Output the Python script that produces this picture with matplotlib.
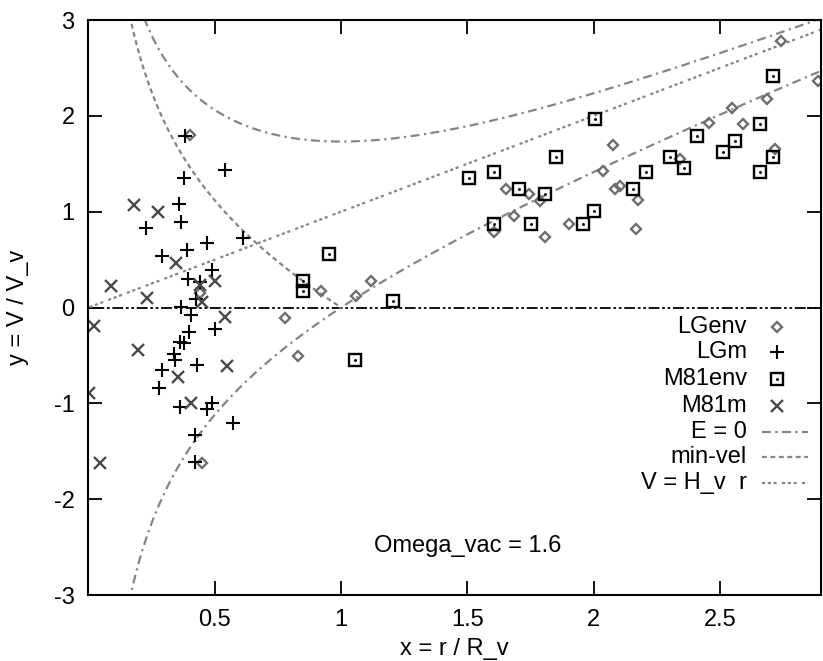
import numpy as np
import matplotlib
matplotlib.use('Agg')
import matplotlib.pyplot as plt

plt.rcParams['font.family'] = ['Liberation Sans', 'DejaVu Sans']
plt.rcParams['axes.unicode_minus'] = False

# data (x = r / R_v, y = V / V_v)
lgenv_x = [0.402, 0.449, 0.440, 0.778, 0.828, 0.920, 1.061, 1.120, 1.604, 1.654,
           1.685, 1.744, 1.786, 1.806, 1.904, 2.036, 2.076, 2.085, 2.105, 2.175,
           2.168, 2.343, 2.458, 2.547, 2.590, 2.686, 2.717, 2.741, 2.890]
lgenv_y = [1.80, -1.62, 0.15, -0.11, -0.51, 0.17, 0.12, 0.28, 0.79, 1.24,
           0.96, 1.18, 1.11, 0.74, 0.87, 1.42, 1.70, 1.24, 1.27, 1.12,
           0.82, 1.55, 1.93, 2.08, 1.92, 2.18, 1.65, 2.78, 2.36]

lgm_x = [0.383, 0.541, 0.379, 0.359, 0.366, 0.227, 0.613, 0.468, 0.389, 0.293,
         0.488, 0.393, 0.440, 0.426, 0.367, 0.406, 0.501, 0.399, 0.363, 0.380,
         0.337, 0.341, 0.429, 0.293, 0.280, 0.363, 0.488, 0.468, 0.571, 0.422,
         0.422]
lgm_y = [1.79, 1.44, 1.35, 1.08, 0.89, 0.83, 0.73, 0.67, 0.60, 0.54,
         0.39, 0.30, 0.27, 0.09, 0.01, -0.08, -0.22, -0.26, -0.36, -0.37,
         -0.48, -0.55, -0.60, -0.65, -0.84, -1.04, -1.00, -1.06, -1.21, -1.33,
         -1.61]

m81env_x = [0.851, 0.851, 0.952, 1.206, 1.055, 1.505, 1.604, 1.704, 1.806, 1.852,
            2.006, 1.604, 1.753, 1.957, 2.003, 2.157, 2.208, 2.304, 2.359, 2.408,
            2.511, 2.559, 2.659, 2.708, 2.659, 2.708]
m81env_y = [0.28, 0.17, 0.56, 0.07, -0.55, 1.35, 1.41, 1.24, 1.18, 1.57,
            1.97, 0.875, 0.875, 0.875, 1.01, 1.24, 1.41, 1.57, 1.46, 1.79,
            1.62, 1.74, 1.92, 2.42, 1.41, 1.57]

m81m_x = [0.179, 0.277, 0.346, 0.090, 0.231, 0.499, 0.440, 0.450, 0.020, 0.198,
          0.541, 0.547, 0.356, 0.003, 0.406, 0.047]
m81m_y = [1.07, 1.00, 0.46, 0.22, 0.10, 0.28, 0.24, 0.06, -0.19, -0.44,
          -0.10, -0.61, -0.73, -0.89, -1.00, -1.62]

omega_vac = 1.6
x_ticks = [0.5, 1, 1.5, 2, 2.5]
y_ticks = [-3, -2, -1, 0, 1, 2, 3]

# model curves (same functions as in the original plot)
xs = np.linspace(0.004, 2.9, 1500)
e_zero = np.sqrt(xs**2 + 2 / xs)
min_arg = np.clip(xs**2 + 2 / xs - 3, 0, None)
min_vel = np.sqrt(min_arg)
min_vel_lo = np.sign(xs - 1) * np.sqrt(min_arg)

GRAY = '#858585'
LS_E0 = (0, (4, 2, 1, 2))
LS_MIN = (0, (2.2, 1.6))
LS_HV = (0, (1.4, 1.2, 1.4, 1.2, 1.4, 2.4))

fig = plt.figure(figsize=(8.23, 6.61), dpi=100)
ax = fig.add_axes([0.1075, 0.0998, 0.8901, 0.8699])

ax.axhline(0, color='black', lw=1.3, linestyle=(0, (6, 1.5, 1.5, 1.5, 1.5, 1.5)))

ax.plot(xs, e_zero, color=GRAY, lw=1.6, linestyle=LS_E0)
ax.plot(xs[xs < 1], min_vel[xs < 1], color=GRAY, lw=1.6, linestyle=LS_MIN)
ax.plot(xs, min_vel_lo, color=GRAY, lw=1.6, linestyle=LS_E0)
ax.plot(xs, xs, color=GRAY, lw=1.6, linestyle=LS_HV)

# points
DIA = dict(marker='D', ms=5.2, mfc='none', mec='#6e6e6e', mew=1.7, ls='none')
PLUS = dict(marker='+', ms=10, color='black', mew=1.5, ls='none')
SQ = dict(marker='s', ms=8.5, mfc='none', mec='black', mew=1.7, ls='none')
DOT = dict(marker='.', ms=2.2, color='black', ls='none')
CROSS = dict(marker='x', ms=8.5, color='#4a4a4a', mew=1.7, ls='none')

ax.plot(lgenv_x, lgenv_y, **DIA)
ax.plot(lgm_x, lgm_y, **PLUS)
ax.plot(m81env_x, m81env_y, **SQ)
ax.plot(m81env_x, m81env_y, **DOT)
ax.plot(m81m_x, m81m_y, **CROSS)

ax.set_xlim(0, 2.9)
ax.set_ylim(-3, 3)
ax.set_xticks(x_ticks)
ax.set_xticklabels([f'{t:g}' for t in x_ticks])
ax.set_yticks(y_ticks)
ax.tick_params(direction='in', length=10, width=1.3, labelsize=17, pad=10,
               top=True, right=True)
for s in ax.spines.values():
    s.set_linewidth(1.5)

ax.set_xlabel('x = r / R_v', fontsize=17, labelpad=5)
ax.set_ylabel('y = V / V_v', fontsize=17, labelpad=18)

ax.text(1.50, -2.49, f'Omega_vac = {omega_vac}', fontsize=17, ha='center', va='center')

# gnuplot-style key: text right-aligned, sample on the right
rows = [0.4666, 0.4221, 0.3757, 0.3292, 0.2840, 0.2405, 0.1953]
labels = ['LGenv', 'LGm', 'M81env', 'M81m', 'E = 0', 'min-vel', 'V = H_v  r']
for yy, lab in zip(rows, labels):
    ax.text(0.899, yy, lab, fontsize=17, ha='right', va='center', transform=ax.transAxes)
tf = ax.transAxes
ax.plot([0.940], [rows[0]], transform=tf, **DIA)
ax.plot([0.940], [rows[1]], transform=tf, **PLUS)
ax.plot([0.940], [rows[2]], transform=tf, **SQ)
ax.plot([0.940], [rows[2]], transform=tf, **DOT)
ax.plot([0.940], [rows[3]], transform=tf, **CROSS)
for yy, ls in zip(rows[4:], [LS_E0, LS_MIN, LS_HV]):
    ax.plot([0.919, 0.982], [yy, yy], color=GRAY, lw=1.6, linestyle=ls, transform=tf)

fig.savefig('out.png', dpi=100)
